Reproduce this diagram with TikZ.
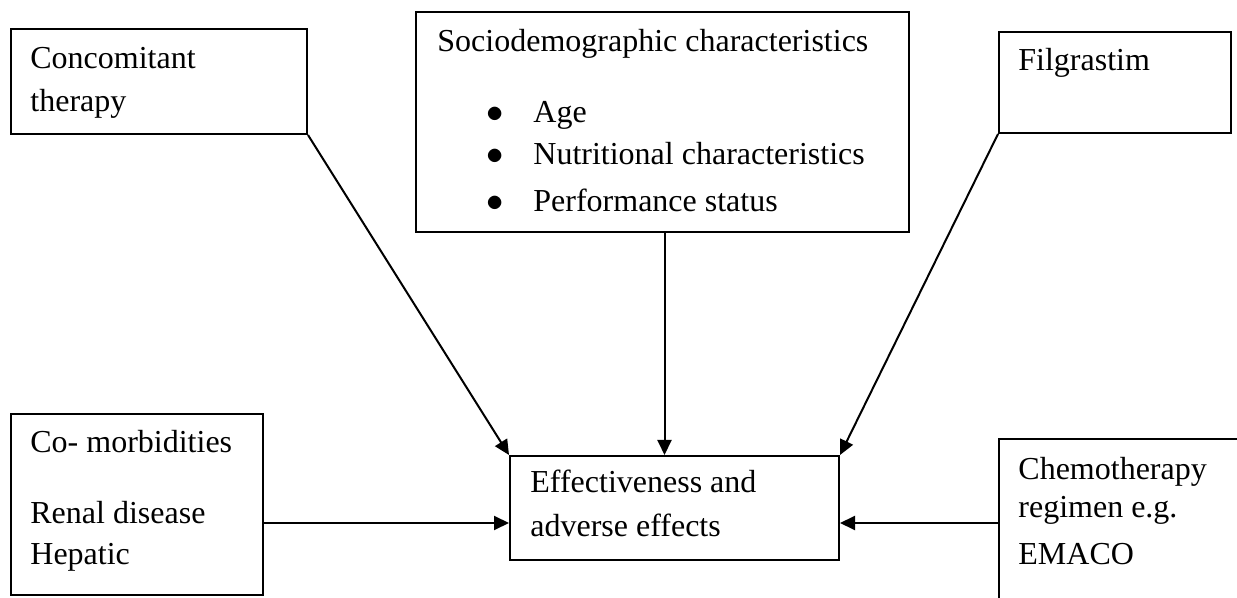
\documentclass[tikz,border=0pt]{standalone}
\usepackage{fontspec}
\setmainfont{Liberation Serif}
\usetikzlibrary{arrows.meta}
\begin{document}
\begin{tikzpicture}[x=0.5pt,y=-0.5pt,
  box/.style={draw, rectangle, line width=1pt, inner sep=0pt, anchor=north west},
  txt/.style={anchor=base west, inner sep=0pt, align=left, font=\fontsize{16}{22}\selectfont},
  arr/.style={line width=1pt, -{Triangle[length=7.5pt,width=7pt]}}]
\useasboundingbox (0,0) rectangle (1237,598);
\fill[white] (0,0) rectangle (1237,598);
% boxes
\node[box, minimum width=148pt, minimum height=52.5pt] (conc) at (10,28) {};
\node[box, minimum width=246.5pt, minimum height=110pt] (socio) at (415,11) {};
\node[box, minimum width=116pt, minimum height=50.5pt] (filg) at (998,31) {};
\node[box, minimum width=126pt, minimum height=90.5pt] (comorb) at (10,413) {};
\node[box, minimum width=164.5pt, minimum height=52pt] (eff) at (509,455) {};
\node[box, minimum width=140pt, minimum height=100pt] (chemo) at (998,438) {};
% texts (base anchor = baseline of the last line)
\node[txt] (concT) at (30,112) {Concomitant\\[-0.5pt]therapy};
\node[txt] (socioT) at (437,52) {Sociodemographic characteristics};
\node[txt] (socioL) at (486,212) {\makebox[23.5pt][l]{$\bullet$}Age\\[-1pt]\makebox[23.5pt][l]{$\bullet$}Nutritional characteristics\\[1.5pt]\makebox[23.5pt][l]{$\bullet$}Performance status};
\node[txt] (filgT) at (1018,71) {Filgrastim};
\node[txt] (comorbT) at (30,453) {Co- morbidities};
\node[txt] (comorbL) at (30,564) {Renal disease\\[-1.5pt]Hepatic};
\node[txt] (effT) at (530,537) {Effectiveness and\\adverse effects};
\node[txt] (chemoT) at (1018,564) {Chemotherapy\\[-3pt]regimen e.g.\\[1.5pt]EMACO};
% connectors
\coordinate (ylev) at (0,523);
\draw[arr] (conc.south east) -- (eff.north west);
\draw[arr] ([xshift=1pt]socio.south) -- ([xshift=1pt]socio.south |- eff.north);
\draw[arr] (filg.south west) -- (eff.north east);
\draw[arr] (comorb.east |- ylev) -- (eff.west |- ylev);
\draw[arr] (chemo.west |- ylev) -- (eff.east |- ylev);
\end{tikzpicture}
\end{document}
